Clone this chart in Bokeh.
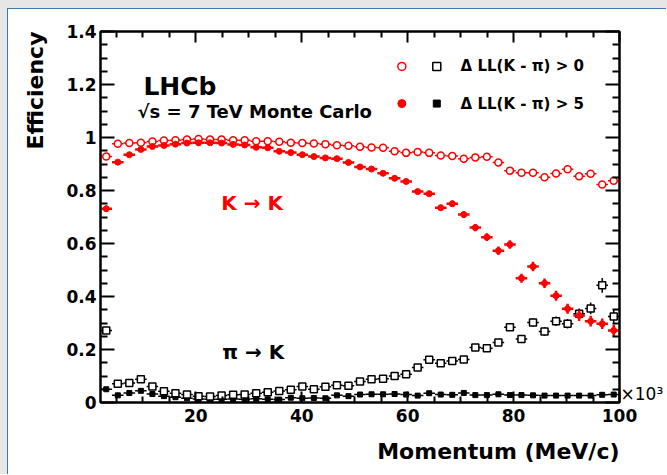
import numpy as np
from bokeh.plotting import figure
from bokeh.models import LinearAxis, FixedTicker, Label, ColumnDataSource, Spacer, Title
from bokeh.layouts import column, row
from bokeh.embed import file_html
from bokeh.resources import INLINE

# ---------------- data ----------------
P_MIN, P_MAX, N_BINS = 2, 100, 45          # momentum in units of 10^3 MeV/c

# K -> K, DLL(K-pi) > 0  (open red circles)
eff_KK_0 = [0.928, 0.976, 0.979, 0.980, 0.985, 0.989, 0.990, 0.992, 0.994, 0.992,
            0.992, 0.990, 0.990, 0.986, 0.986, 0.984, 0.980, 0.979, 0.977, 0.975,
            0.971, 0.969, 0.965, 0.962, 0.961, 0.948, 0.942, 0.945, 0.942, 0.932,
            0.930, 0.920, 0.925, 0.927, 0.906, 0.875, 0.867, 0.867, 0.850, 0.864,
            0.880, 0.854, 0.863, 0.823, 0.837]
err_KK_0 = [0.004, 0.002, 0.002, 0.002, 0.002, 0.002, 0.002, 0.002, 0.002, 0.002,
            0.002, 0.002, 0.002, 0.002, 0.002, 0.003, 0.003, 0.003, 0.003, 0.003,
            0.003, 0.004, 0.004, 0.004, 0.004, 0.005, 0.005, 0.005, 0.006, 0.006,
            0.006, 0.007, 0.007, 0.007, 0.008, 0.009, 0.009, 0.010, 0.010, 0.011,
            0.011, 0.012, 0.012, 0.013, 0.013]

# K -> K, DLL(K-pi) > 5  (filled red circles)
eff_KK_5 = [0.731, 0.907, 0.935, 0.955, 0.966, 0.970, 0.975, 0.979, 0.980, 0.980,
            0.979, 0.974, 0.972, 0.963, 0.961, 0.948, 0.943, 0.935, 0.928, 0.923,
            0.920, 0.906, 0.889, 0.881, 0.865, 0.846, 0.834, 0.796, 0.788, 0.735,
            0.750, 0.709, 0.660, 0.624, 0.573, 0.596, 0.469, 0.513, 0.450, 0.403,
            0.354, 0.328, 0.307, 0.297, 0.272]
err_KK_5 = [0.012, 0.005, 0.004, 0.004, 0.003, 0.003, 0.003, 0.003, 0.003, 0.003,
            0.003, 0.003, 0.004, 0.004, 0.004, 0.005, 0.005, 0.005, 0.006, 0.006,
            0.006, 0.007, 0.007, 0.008, 0.008, 0.009, 0.009, 0.010, 0.011, 0.011,
            0.012, 0.013, 0.014, 0.015, 0.016, 0.016, 0.017, 0.018, 0.018, 0.019,
            0.019, 0.020, 0.020, 0.020, 0.021]

# pi -> K, DLL(K-pi) > 0  (open black squares)
eff_PK_0 = [0.272, 0.071, 0.074, 0.088, 0.060, 0.042, 0.035, 0.030, 0.024, 0.023,
            0.026, 0.029, 0.030, 0.035, 0.039, 0.043, 0.048, 0.060, 0.050, 0.059,
            0.065, 0.063, 0.079, 0.088, 0.090, 0.100, 0.107, 0.132, 0.161, 0.148,
            0.157, 0.162, 0.208, 0.205, 0.226, 0.284, 0.240, 0.302, 0.268, 0.307,
            0.297, 0.335, 0.355, 0.442, 0.325]
err_PK_0 = [0.012, 0.004, 0.004, 0.004, 0.003, 0.003, 0.002, 0.002, 0.002, 0.002,
            0.002, 0.002, 0.002, 0.002, 0.002, 0.003, 0.003, 0.003, 0.003, 0.003,
            0.004, 0.004, 0.004, 0.005, 0.005, 0.006, 0.006, 0.007, 0.008, 0.008,
            0.009, 0.009, 0.011, 0.011, 0.012, 0.014, 0.014, 0.016, 0.016, 0.018,
            0.018, 0.020, 0.022, 0.028, 0.024]

# pi -> K, DLL(K-pi) > 5  (filled black squares)
eff_PK_5 = [0.050, 0.027, 0.036, 0.044, 0.032, 0.024, 0.020, 0.016, 0.013, 0.012,
            0.012, 0.013, 0.012, 0.014, 0.012, 0.011, 0.018, 0.016, 0.017, 0.016,
            0.027, 0.024, 0.030, 0.031, 0.031, 0.032, 0.030, 0.026, 0.035, 0.030,
            0.029, 0.036, 0.028, 0.028, 0.031, 0.028, 0.028, 0.027, 0.026, 0.026,
            0.026, 0.026, 0.026, 0.029, 0.030]
err_PK_5 = [0.004, 0.002, 0.002, 0.002, 0.002, 0.002, 0.002, 0.002, 0.002, 0.002,
            0.002, 0.002, 0.002, 0.002, 0.002, 0.002, 0.002, 0.002, 0.002, 0.002,
            0.003, 0.003, 0.003, 0.003, 0.003, 0.003, 0.003, 0.003, 0.004, 0.004,
            0.004, 0.004, 0.004, 0.004, 0.005, 0.005, 0.005, 0.005, 0.005, 0.006,
            0.006, 0.006, 0.006, 0.007, 0.007]

x_ticks = [20, 40, 60, 80, 100]
x_minor = [5, 10, 15, 25, 30, 35, 45, 50, 55, 65, 70, 75, 85, 90, 95]
y_ticks = [0, 0.2, 0.4, 0.6, 0.8, 1.0, 1.2, 1.4]
y_tick_labels = ["0", "0.2", "0.4", "0.6", "0.8", "1", "1.2", "1.4"]
y_minor = [0.05, 0.1, 0.15, 0.25, 0.3, 0.35, 0.45, 0.5, 0.55, 0.65, 0.7, 0.75,
           0.85, 0.9, 0.95, 1.05, 1.1, 1.15, 1.25, 1.3, 1.35]

RED = "#ff0000"
FONT = "DejaVu Sans"
GRAY = "#e6e6e6"
BLUE = "#3d7ab5"

# ---------------- figure ----------------
p = figure(width=658, height=465, x_range=(P_MIN, P_MAX), y_range=(0, 1.4),
           output_backend="svg", toolbar_location=None,
           min_border_left=92, min_border_right=46, min_border_top=22, min_border_bottom=72)
p.grid.visible = False
p.outline_line_color = "black"
p.outline_line_width = 2
p.background_fill_color = "white"
p.border_fill_color = "white"


def style_axis(ax, major_in, minor_in, show_labels):
    ax.axis_line_width = 2
    ax.major_tick_in = major_in
    ax.major_tick_out = 0
    ax.minor_tick_in = minor_in
    ax.minor_tick_out = 0
    ax.major_tick_line_width = 2
    ax.minor_tick_line_width = 2
    ax.major_label_text_font = FONT
    ax.major_label_text_font_style = "bold"
    if show_labels:
        ax.major_label_text_font_size = "17px"
        ax.major_label_text_color = "black"
    else:
        ax.major_label_text_font_size = "1px"
        ax.major_label_text_color = None
        ax.major_label_standoff = 0


def add_gap(ax, px):
    # invisible axis label that only reserves room between tick labels and axis title
    ax.axis_label = "."
    ax.axis_label_text_color = None
    ax.axis_label_text_font_size = f"{px}px"
    ax.axis_label_standoff = 0


xb = p.xaxis[0]
xb.ticker = FixedTicker(ticks=x_ticks, minor_ticks=x_minor)
style_axis(xb, 11, 6, True)
xb.major_label_standoff = 6
add_gap(xb, 5)

yl = p.yaxis[0]
yl.ticker = FixedTicker(ticks=y_ticks, minor_ticks=y_minor)
yl.major_label_overrides = {t: s for t, s in zip(y_ticks, y_tick_labels)}
style_axis(yl, 14, 7, True)
yl.major_label_standoff = 4
add_gap(yl, 7)

xt = LinearAxis(ticker=FixedTicker(ticks=x_ticks, minor_ticks=x_minor))
style_axis(xt, 11, 6, False)
p.add_layout(xt, "above")

yr = LinearAxis(ticker=FixedTicker(ticks=y_ticks, minor_ticks=y_minor))
style_axis(yr, 14, 7, False)
yr.axis_label = "\u00d710\u00b3\n "
yr.axis_label_text_font = FONT
yr.axis_label_text_font_style = "normal"
yr.axis_label_text_font_size = "17px"
yr.axis_label_text_color = "black"
yr.axis_label_text_line_height = 0.9
yr.axis_label_orientation = "horizontal"
yr.axis_label_standoff = 1
if "axis_label_align" in yr.properties():
    yr.axis_label_align = "start"
p.add_layout(yr, "right")

# axis titles, right/top aligned as in ROOT
p.add_layout(Title(text="Momentum (MeV/c)", align="right", vertical_align="middle",
                   text_font=FONT, text_color="black", text_font_style="bold",
                   text_font_size="22px", standoff=12), "below")
p.add_layout(Title(text="Efficiency", align="right", vertical_align="middle",
                   text_font=FONT, text_color="black", text_font_style="bold",
                   text_font_size="22px", standoff=13), "left")

# ---------------- data marks ----------------
edges = np.linspace(P_MIN, P_MAX, N_BINS + 1)
centers = 0.5 * (edges[:-1] + edges[1:])


def draw(eff, err, color, marker, size, filled, bar_w, marker_lw):
    eff = np.asarray(eff)
    err = np.asarray(err)
    src = ColumnDataSource(dict(x=centers, xl=edges[:-1], xr=edges[1:], y=eff,
                                yl=eff - err, yh=eff + err))
    p.segment(x0="xl", x1="xr", y0="y", y1="y", source=src, line_color=color, line_width=bar_w)
    p.segment(x0="x", x1="x", y0="yl", y1="yh", source=src, line_color=color, line_width=bar_w)
    p.scatter(x="x", y="y", source=src, marker=marker, size=size,
              fill_color=color if filled else "white", line_color=color, line_width=marker_lw)


draw(eff_PK_5, err_PK_5, "black", "square", 5, True, 1.5, 1)
draw(eff_PK_0, err_PK_0, "black", "square", 7, False, 1.5, 1.5)
draw(eff_KK_0, err_KK_0, RED, "circle", 7, False, 1.5, 1.5)
draw(eff_KK_5, err_KK_5, RED, "circle", 6, True, 2.5, 1)

# ---------------- legend (two symbols per row) ----------------
leg_x_circle, leg_x_square, leg_x_text = 58.9, 65.5, 70.0
leg_rows_y = [1.268, 1.128]
leg_texts = ["\u0394 LL(K - \u03c0) > 0", "\u0394 LL(K - \u03c0) > 5"]
p.scatter(x=[leg_x_circle], y=[leg_rows_y[0]], marker="circle", size=8,
          fill_color="white", line_color=RED, line_width=1.5)
p.scatter(x=[leg_x_square], y=[leg_rows_y[0]], marker="square", size=8,
          fill_color="white", line_color="black", line_width=1.5)
p.scatter(x=[leg_x_circle], y=[leg_rows_y[1]], marker="circle", size=8,
          fill_color=RED, line_color=RED)
p.scatter(x=[leg_x_square], y=[leg_rows_y[1]], marker="square", size=7,
          fill_color="black", line_color="black")
for yy, t in zip(leg_rows_y, leg_texts):
    p.add_layout(Label(x=leg_x_text, y=yy, text=t, text_font=FONT, text_font_style="bold",
                       text_font_size="15px", text_color="black",
                       text_baseline="middle", text_align="left"))


def lab(x, y, text, size, color="black", baseline="middle"):
    p.add_layout(Label(x=x, y=y, text=text, text_font=FONT, text_font_style="bold",
                       text_font_size=size, text_color=color, text_align="left",
                       text_baseline=baseline))


lab(10.1, 1.193, "LHCb", "25px", baseline="alphabetic")
lab(9.0, 1.098, "\u221as = 7 TeV Monte Carlo", "18px", baseline="alphabetic")
lab(24.8, 0.751, "K \u2192 K", "20px", color=RED)
lab(25.0, 0.190, "\u03c0 \u2192 K", "20px")

# ---------------- page frame (gray margin with blue edge) ----------------
layout = column(
    Spacer(width=667, height=8, styles={"background-color": GRAY}),
    row(
        Spacer(width=7, height=466, styles={"background-color": GRAY}),
        Spacer(width=1, height=466, styles={"background-color": BLUE}),
        column(Spacer(width=658, height=1, styles={"background-color": BLUE}), p),
    ),
)

open("out.html", "w").write(file_html(layout, INLINE))
